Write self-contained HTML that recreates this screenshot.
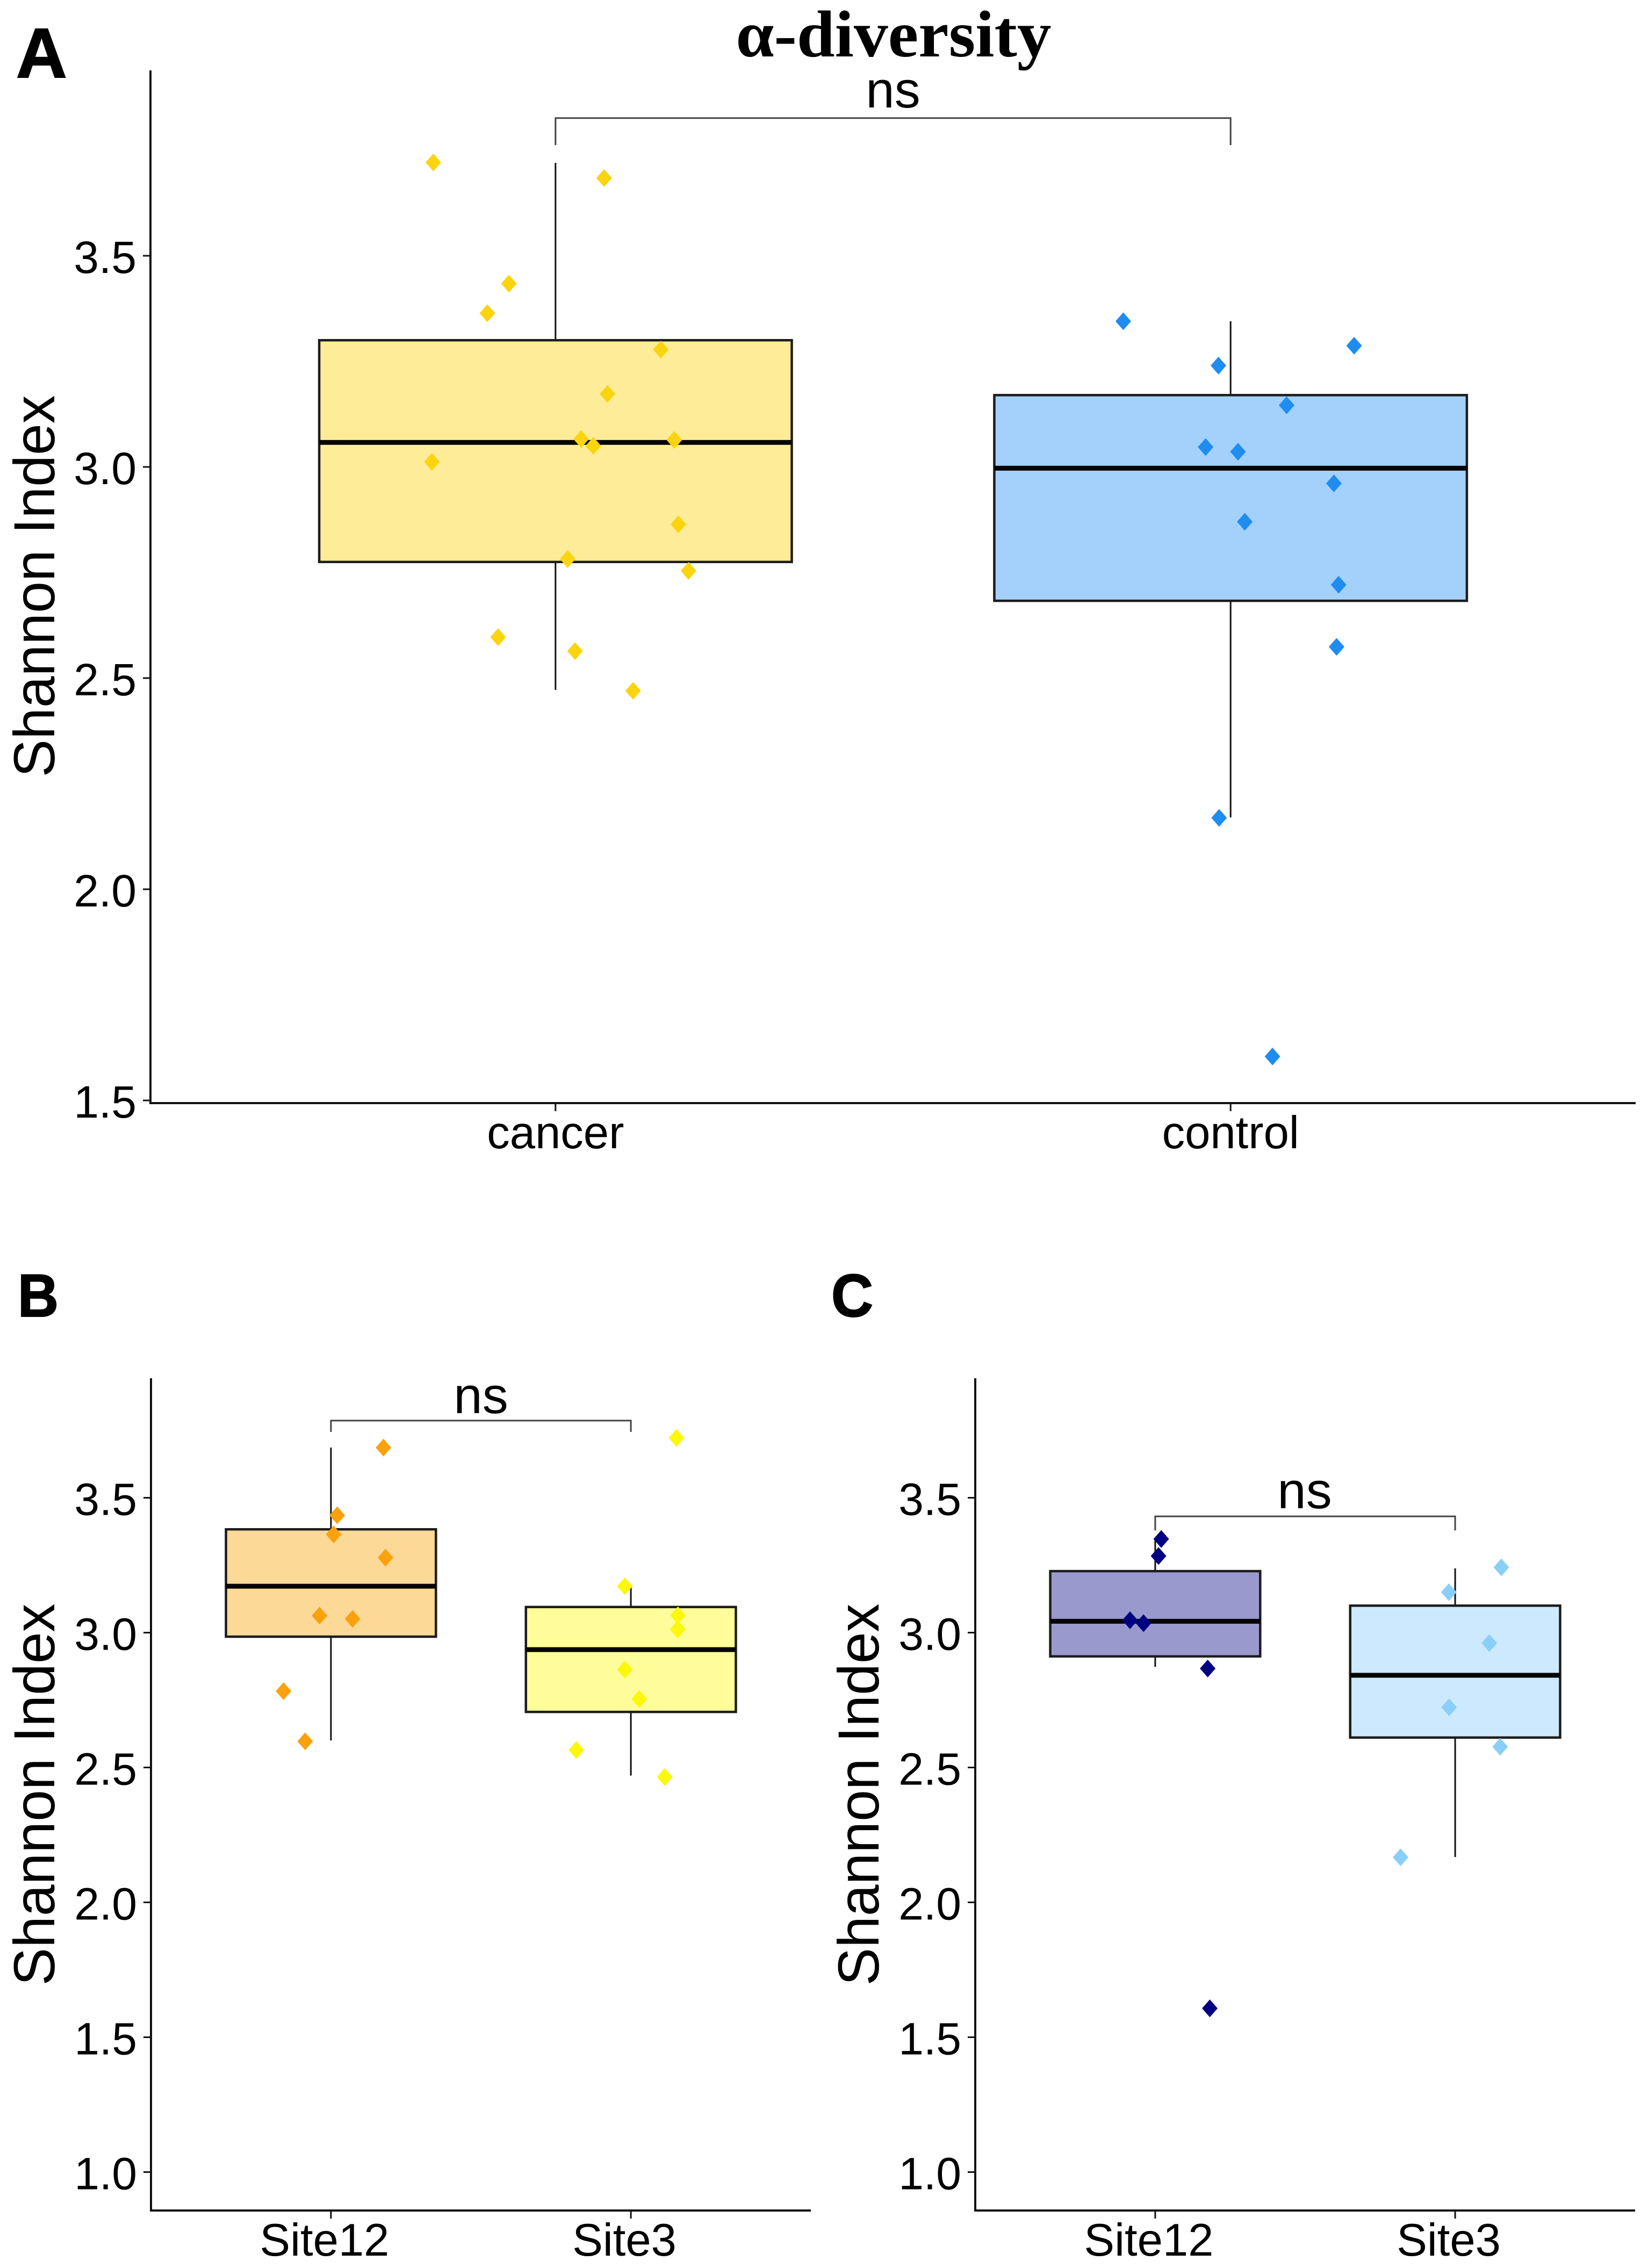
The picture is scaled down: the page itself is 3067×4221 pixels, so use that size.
<!DOCTYPE html>
<html lang="en">
<head>
<meta charset="utf-8">
<title>α-diversity boxplots</title>
<style>
  html, body { margin: 0; padding: 0; background: #ffffff; }
  svg { display: block; }
  text { font-family: "Liberation Sans", Arial, sans-serif; fill: #000; }
  .serif { font-family: "Liberation Serif", "Times New Roman", serif; font-weight: bold; }
  .letter { font-weight: bold; }
</style>
</head>
<body>
<svg id="figure" xmlns="http://www.w3.org/2000/svg" width="3067" height="4221" viewBox="0 0 3067 4221">
  <rect x="0" y="0" width="3067" height="4221" fill="#ffffff"/>
  <text class="serif" x="1663" y="105" font-size="123" text-anchor="middle" textLength="587" lengthAdjust="spacingAndGlyphs">α-diversity</text>
  <text class="letter" x="30" y="144" font-size="131" stroke="#000" stroke-width="2">A</text>
  <text class="letter" x="33" y="2450" font-size="112" textLength="76" lengthAdjust="spacingAndGlyphs" stroke="#000" stroke-width="2">B</text>
  <text class="letter" x="1547" y="2450" font-size="112" textLength="78" lengthAdjust="spacingAndGlyphs" stroke="#000" stroke-width="2">C</text>
  <text transform="rotate(-90 101 1091)" x="101" y="1091" font-size="108" text-anchor="middle" textLength="711" lengthAdjust="spacingAndGlyphs">Shannon Index</text>
  <text transform="rotate(-90 101 3340)" x="101" y="3340" font-size="108" text-anchor="middle" textLength="711" lengthAdjust="spacingAndGlyphs">Shannon Index</text>
  <text transform="rotate(-90 1635 3340)" x="1635" y="3340" font-size="108" text-anchor="middle" textLength="711" lengthAdjust="spacingAndGlyphs">Shannon Index</text>
  <text x="1662" y="200" font-size="96" text-anchor="middle">ns</text>
  <text x="895" y="2630" font-size="96" text-anchor="middle">ns</text>
  <text x="2428" y="2807" font-size="96" text-anchor="middle">ns</text>
</svg>
<script>
// ---- Panel A data ----
const categoriesA = ['cancer', 'control'];
const ticksA = [1.5, 2.0, 2.5, 3.0, 3.5];
const tickLabelsA = ['1.5', '2.0', '2.5', '3.0', '3.5'];
const cancerValues = [3.721, 3.684, 3.434, 3.364, 3.278, 3.173, 3.066, 3.05, 3.064, 3.012, 2.864, 2.782, 2.754, 2.597, 2.564, 2.47];
const cancerJitter = [-0.181, 0.072, -0.069, -0.101, 0.156, 0.077, 0.038, 0.056, 0.176, -0.183, 0.182, 0.018, 0.197, -0.085, 0.029, 0.115];
const cancerBox = [2.472, 2.775, 3.058, 3.30, 3.72];
const controlValues = [3.345, 3.24, 3.287, 3.146, 3.047, 3.036, 2.961, 2.87, 2.721, 2.574, 2.169, 1.604];
const controlJitter = [-0.159, -0.018, 0.183, 0.083, -0.037, 0.011, 0.153, 0.021, 0.160, 0.157, -0.017, 0.062];
const controlBox = [2.17, 2.683, 2.997, 3.17, 3.345];
const bracketA = [3.826, 3.762];

// ---- Panel B data ----
const categoriesB = ['Site12', 'Site3'];
const ticksB = [1.0, 1.5, 2.0, 2.5, 3.0, 3.5];
const tickLabelsB = ['1.0', '1.5', '2.0', '2.5', '3.0', '3.5'];
const cancerSite12Values = [3.686, 3.435, 3.364, 3.278, 3.063, 3.051, 2.783, 2.597];
const cancerSite12Jitter = [0.175, 0.021, 0.009, 0.182, -0.038, 0.072, -0.158, -0.086];
const cancerSite12Box = [2.60, 2.985, 3.172, 3.383, 3.686];
const cancerSite3Values = [3.722, 3.172, 3.064, 3.012, 2.863, 2.754, 2.565, 2.465];
const cancerSite3Jitter = [0.152, -0.020, 0.157, 0.156, -0.020, 0.028, -0.182, 0.113];
const cancerSite3Box = [2.47, 2.706, 2.937, 3.095, 3.172];
const bracketB = [3.786, 3.744];

// ---- Panel C data ----
const categoriesC = ['Site12', 'Site3'];
const ticksC = [1.0, 1.5, 2.0, 2.5, 3.0, 3.5];
const tickLabelsC = ['1.0', '1.5', '2.0', '2.5', '3.0', '3.5'];
const controlSite12Values = [3.347, 3.284, 3.046, 3.035, 2.867, 1.607];
const controlSite12Jitter = [0.020, 0.011, -0.084, -0.039, 0.175, 0.182];
const controlSite12Box = [2.873, 2.912, 3.042, 3.228, 3.345];
const controlSite3Values = [3.242, 3.150, 2.961, 2.723, 2.577, 2.167];
const controlSite3Jitter = [0.154, -0.021, 0.114, -0.020, 0.150, -0.182];
const controlSite3Box = [2.168, 2.611, 2.842, 3.10, 3.238];
const bracketC = [3.431, 3.379];

const NS = 'http://www.w3.org/2000/svg';
const svg = document.getElementById('figure');
const X_DOMAIN = [0.4, 2.6];
const BOX_HALF = 0.35;
const MARK_R = 15.5;

function scale(d0, d1, r0, r1) {
  return function (v) { return r0 + (v - d0) * (r1 - r0) / (d1 - d0); };
}

function line(parent, x1, y1, x2, y2, stroke, width) {
  const el = document.createElementNS(NS, 'line');
  el.setAttribute('x1', x1);
  el.setAttribute('y1', y1);
  el.setAttribute('x2', x2);
  el.setAttribute('y2', y2);
  el.setAttribute('stroke', stroke);
  el.setAttribute('stroke-width', width);
  parent.appendChild(el);
  return el;
}

function drawPanel(id, geom, categories, ticks, tickLabels, series, bracket, labelShift) {
  const x = scale(X_DOMAIN[0], X_DOMAIN[1], geom.left, geom.right);
  const y = scale(geom.y0, geom.y1, geom.y0Px, geom.y1Px);
  const yMax = geom.y0 + (geom.top - geom.y0Px) * (geom.y1 - geom.y0) / (geom.y1Px - geom.y0Px);

  const g = document.createElementNS(NS, 'g');
  
  
  svg.appendChild(g);

  series.forEach(function (s, i) {
    const cx = x(i + 1);
    const slug = categories[i].toLowerCase();

    const upper = line(g, cx, y(s.box[3]), cx, y(s.box[4]), '#111', 3);
    
    

    const lower = line(g, cx, y(s.box[1]), cx, y(s.box[0]), '#111', 3);
    
    

    const rect = document.createElementNS(NS, 'rect');
    rect.setAttribute('x', x(i + 1 - BOX_HALF));
    rect.setAttribute('width', x(i + 1 + BOX_HALF) - x(i + 1 - BOX_HALF));
    rect.setAttribute('y', y(s.box[3]));
    rect.setAttribute('height', y(s.box[1]) - y(s.box[3]));
    rect.setAttribute('fill', s.fill);
    rect.setAttribute('stroke', '#1c1c1c');
    rect.setAttribute('stroke-width', 4.5);
    
    
    g.appendChild(rect);

    const median = line(g, x(i + 1 - BOX_HALF), y(s.box[2]), x(i + 1 + BOX_HALF), y(s.box[2]), '#050505', 9);
    
    

    s.values.forEach(function (v, k) {
      const px = x(i + 1 + s.jitter[k]);
      const py = y(v);
      const p = document.createElementNS(NS, 'polygon');
      p.setAttribute('points', [px, py - MARK_R - 1, px + MARK_R - 1, py, px, py + MARK_R + 1, px - MARK_R + 1, py].join(' '));
      p.setAttribute('fill', s.point);
      
      
      g.appendChild(p);
    });
  });

  // significance bracket
  const bracketPath = document.createElementNS(NS, 'path');
  bracketPath.setAttribute('d', 'M' + x(1) + ' ' + y(bracket[1]) + 'V' + y(bracket[0]) + 'H' + x(2) + 'V' + y(bracket[1]));
  bracketPath.setAttribute('fill', 'none');
  bracketPath.setAttribute('stroke', '#444');
  bracketPath.setAttribute('stroke-width', 3);
  
  
  g.appendChild(bracketPath);

  // axes
  const yAxis = line(g, geom.left, y(yMax), geom.left, geom.bottom + 2, '#111', 4);
  
  

  const xAxis = line(g, geom.left - 2, geom.bottom, geom.right, geom.bottom, '#111', 4);
  
  

  ticks.forEach(function (t, k) {
    const tick = line(g, geom.left - 14, y(t), geom.left, y(t), '#111', 3);
    
    

    const label = document.createElementNS(NS, 'text');
    label.setAttribute('x', geom.left - 26);
    label.setAttribute('y', y(t) + 32);
    label.setAttribute('font-size', 84);
    label.setAttribute('text-anchor', 'end');
    label.textContent = tickLabels[k];
    
    
    g.appendChild(label);
  });

  categories.forEach(function (c, i) {
    const tick = line(g, x(i + 1), geom.bottom, x(i + 1), geom.bottom + 15, '#111', 3);
    
    

    const label = document.createElementNS(NS, 'text');
    label.setAttribute('x', x(i + 1) + labelShift);
    label.setAttribute('y', geom.bottom + 84);
    label.setAttribute('font-size', 85);
    label.setAttribute('text-anchor', 'middle');
    label.textContent = c;
    
    
    g.appendChild(label);
  });
}

drawPanel('a',
  { left: 280, right: 3044, top: 131, bottom: 2053, y0: 3, y1: 3.5, y0Px: 869, y1Px: 476 },
  categoriesA, ticksA, tickLabelsA,
  [
    { values: cancerValues, jitter: cancerJitter, box: cancerBox, fill: '#FEEC98', point: '#FAD40E' },
    { values: controlValues, jitter: controlJitter, box: controlBox, fill: '#A3D1FC', point: '#1F8CF0' }
  ], bracketA, 0);

drawPanel('b',
  { left: 281, right: 1509, top: 2565, bottom: 4114, y0: 3, y1: 3.5, y0Px: 3038.5, y1Px: 2787.5 },
  categoriesB, ticksB, tickLabelsB,
  [
    { values: cancerSite12Values, jitter: cancerSite12Jitter, box: cancerSite12Box, fill: '#FDD998', point: '#F9A20E' },
    { values: cancerSite3Values, jitter: cancerSite3Jitter, box: cancerSite3Box, fill: '#FFFD99', point: '#FBF80A' }
  ], bracketB, -12);

drawPanel('c',
  { left: 1815, right: 3043, top: 2565, bottom: 4114, y0: 3, y1: 3.5, y0Px: 3038.5, y1Px: 2787.5 },
  categoriesC, ticksC, tickLabelsC,
  [
    { values: controlSite12Values, jitter: controlSite12Jitter, box: controlSite12Box, fill: '#9A99CE', point: '#000080' },
    { values: controlSite3Values, jitter: controlSite3Jitter, box: controlSite3Box, fill: '#CDE9FD', point: '#8ACFF8' }
  ], bracketC, -12);
</script>
</body>
</html>
